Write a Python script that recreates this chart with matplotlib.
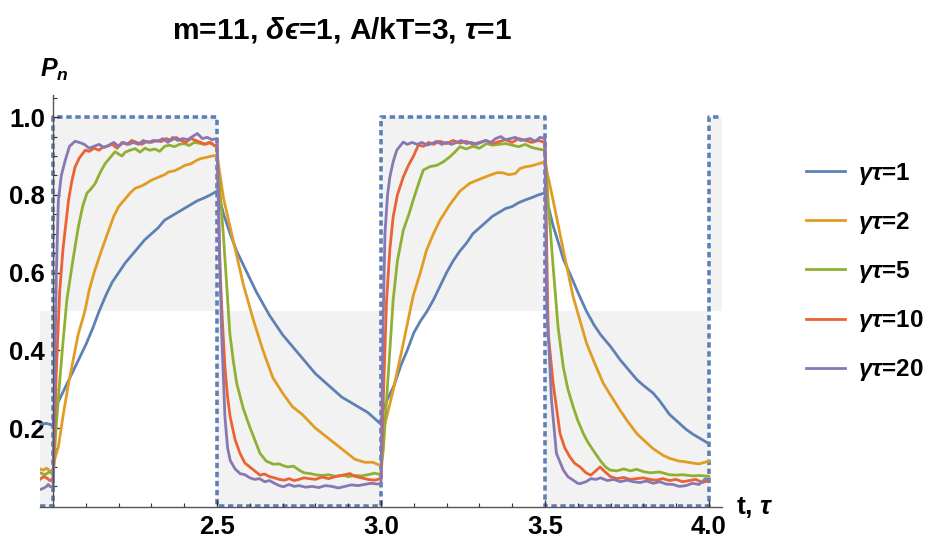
import matplotlib.pyplot as plt

plt.rcParams['font.family'] = ['Liberation Sans', 'DejaVu Sans']
plt.rcParams['mathtext.fontset'] = 'custom'
plt.rcParams['mathtext.rm'] = 'Liberation Sans:bold'
plt.rcParams['mathtext.it'] = 'Liberation Sans:bold:italic'
plt.rcParams['mathtext.bf'] = 'Liberation Sans:bold'

# square drive signal
switch_t = [1.96, 2.0, 2.5, 3.0, 3.5, 4.0, 4.04]
switch_level = [0.0, 1.0, 0.0, 1.0, 0.0, 1.0, 1.0]
fill_ref = 0.5

labels = ["$\\mathit{γτ}$=1", "$\\mathit{γτ}$=2", "$\\mathit{γτ}$=5",
          "$\\mathit{γτ}$=10", "$\\mathit{γτ}$=20"]
colors = ["#5E81B5", "#E19C24", "#8FB032", "#EB6235", "#8778B3"]

t_blue = [1.96, 1.98, 2.0, 2.005, 2.02, 2.04, 2.06, 2.08, 2.10, 2.12, 2.14, 2.16, 2.18, 2.20,
          2.22, 2.24, 2.26, 2.28, 2.30, 2.32, 2.34, 2.36, 2.38, 2.40, 2.42, 2.44, 2.46, 2.48, 2.50,
          2.505, 2.52, 2.54, 2.56, 2.58, 2.60, 2.62, 2.64, 2.66, 2.68, 2.70, 2.72, 2.74, 2.76,
          2.78, 2.80, 2.82, 2.84, 2.86, 2.88, 2.90, 2.92, 2.94, 2.96, 2.98, 3.0,
          3.005, 3.02, 3.04, 3.06, 3.08, 3.10, 3.12, 3.14, 3.16, 3.18, 3.20, 3.22, 3.24, 3.26,
          3.28, 3.30, 3.32, 3.34, 3.36, 3.38, 3.40, 3.42, 3.44, 3.46, 3.48, 3.50,
          3.505, 3.525, 3.54, 3.556, 3.58, 3.60, 3.627, 3.65, 3.67, 3.70, 3.73, 3.75, 3.78,
          3.80, 3.83, 3.85, 3.88, 3.90, 3.93, 3.95, 3.97, 4.0]
p_blue = [0.21, 0.212, 0.207, 0.25, 0.275, 0.31, 0.345, 0.38, 0.415, 0.455, 0.50, 0.54, 0.575, 0.60,
          0.625, 0.645, 0.665, 0.685, 0.70, 0.715, 0.735, 0.745, 0.755, 0.765, 0.775, 0.785, 0.792, 0.80, 0.81,
          0.80, 0.75, 0.70, 0.655, 0.62, 0.585, 0.55, 0.52, 0.49, 0.465, 0.44, 0.42, 0.40, 0.38,
          0.36, 0.34, 0.325, 0.31, 0.295, 0.28, 0.27, 0.26, 0.25, 0.24, 0.225, 0.21,
          0.245, 0.275, 0.31, 0.36, 0.40, 0.445, 0.475, 0.50, 0.53, 0.565, 0.60, 0.63, 0.655, 0.675,
          0.70, 0.715, 0.73, 0.745, 0.755, 0.765, 0.77, 0.78, 0.787, 0.793, 0.80, 0.805,
          0.79, 0.72, 0.68, 0.635, 0.59, 0.55, 0.50, 0.465, 0.44, 0.41, 0.375, 0.355, 0.325,
          0.31, 0.29, 0.27, 0.235, 0.22, 0.197, 0.185, 0.175, 0.16]

t_orange = [1.96, 1.97, 1.98, 1.99, 2.0, 2.005, 2.016, 2.03, 2.047, 2.06, 2.077, 2.09, 2.098, 2.11,
            2.125, 2.148, 2.17, 2.185, 2.20, 2.22, 2.235, 2.25, 2.27, 2.285, 2.30, 2.32, 2.34, 2.352,
            2.37, 2.39, 2.402, 2.42, 2.44, 2.453, 2.47, 2.485, 2.5,
            2.52, 2.55, 2.58, 2.61, 2.64, 2.67, 2.70, 2.73, 2.76, 2.80, 2.83, 2.86, 2.89, 2.92,
            2.95, 2.975, 3.0,
            3.007, 3.012, 3.037, 3.068, 3.098, 3.12, 3.139, 3.16, 3.18, 3.21, 3.241, 3.271, 3.30,
            3.33, 3.353, 3.37, 3.39, 3.41, 3.424, 3.44, 3.46, 3.48, 3.5,
            3.525, 3.556, 3.586, 3.627, 3.65, 3.678, 3.70, 3.729, 3.75, 3.78, 3.80, 3.83, 3.86,
            3.881, 3.91, 3.93, 3.95, 3.97, 4.0]
p_orange = [0.095, 0.092, 0.097, 0.09, 0.085, 0.12, 0.152, 0.23, 0.315, 0.37, 0.443, 0.48, 0.505, 0.555,
            0.60, 0.658, 0.71, 0.745, 0.77, 0.79, 0.805, 0.817, 0.823, 0.83, 0.838, 0.845, 0.852, 0.859,
            0.862, 0.87, 0.876, 0.88, 0.89, 0.894, 0.897, 0.90, 0.902,
            0.79, 0.68, 0.57, 0.48, 0.40, 0.33, 0.29, 0.255, 0.235, 0.20, 0.18, 0.16, 0.14, 0.12,
            0.112, 0.112, 0.103,
            0.143, 0.21, 0.297, 0.418, 0.54, 0.60, 0.658, 0.70, 0.735, 0.775, 0.81, 0.83, 0.84,
            0.85, 0.857, 0.857, 0.852, 0.855, 0.868, 0.872, 0.875, 0.88, 0.885,
            0.786, 0.658, 0.538, 0.418, 0.37, 0.315, 0.285, 0.246, 0.22, 0.186, 0.17, 0.147, 0.13,
            0.122, 0.115, 0.113, 0.11, 0.108, 0.115]

t_green = [1.96, 1.975, 1.99, 2.0, 2.01, 2.02, 2.03, 2.042, 2.06, 2.077, 2.09, 2.103, 2.115, 2.128,
           2.145, 2.159, 2.175, 2.189, 2.20, 2.21, 2.22, 2.235, 2.25, 2.265, 2.28, 2.295, 2.31,
           2.325, 2.34, 2.355, 2.37, 2.385, 2.40, 2.415, 2.43, 2.445, 2.46, 2.475, 2.49, 2.5,
           2.505, 2.519, 2.53, 2.539, 2.55, 2.56, 2.58, 2.601, 2.615, 2.631, 2.65, 2.672, 2.69,
           2.70, 2.715, 2.733, 2.75, 2.765, 2.784, 2.80, 2.82, 2.84, 2.86, 2.885, 2.90, 2.92,
           2.94, 2.96, 2.98, 3.0,
           3.017, 3.037, 3.05, 3.068, 3.085, 3.098, 3.115, 3.129, 3.15, 3.17, 3.19, 3.21, 3.225,
           3.241, 3.26, 3.28, 3.30, 3.322, 3.34, 3.36, 3.38, 3.40, 3.42, 3.44, 3.46, 3.48, 3.5,
           3.51, 3.525, 3.54, 3.556, 3.57, 3.586, 3.60, 3.617, 3.63, 3.647, 3.67, 3.685, 3.698,
           3.72, 3.74, 3.76, 3.78, 3.80, 3.82, 3.85, 3.88, 3.90, 3.92, 3.95, 3.97, 4.0]
p_green = [0.085, 0.08, 0.088, 0.08, 0.21, 0.32, 0.42, 0.53, 0.63, 0.718, 0.77, 0.804, 0.815, 0.829,
           0.86, 0.881, 0.897, 0.911, 0.905, 0.90, 0.91, 0.915, 0.919, 0.91, 0.92, 0.915, 0.918,
           0.912, 0.925, 0.928, 0.924, 0.93, 0.932, 0.927, 0.935, 0.933, 0.93, 0.935, 0.928, 0.925,
           0.85, 0.70, 0.56, 0.443, 0.37, 0.315, 0.25, 0.20, 0.17, 0.135, 0.115, 0.107, 0.108,
           0.104, 0.10, 0.102, 0.092, 0.085, 0.083, 0.08, 0.078, 0.08, 0.076, 0.079, 0.075, 0.078,
           0.077, 0.08, 0.084, 0.08,
           0.272, 0.529, 0.63, 0.709, 0.75, 0.786, 0.83, 0.864, 0.873, 0.876, 0.885, 0.898, 0.91,
           0.924, 0.918, 0.925, 0.92, 0.932, 0.928, 0.93, 0.932, 0.928, 0.924, 0.93, 0.922, 0.918, 0.915,
           0.78, 0.615, 0.46, 0.357, 0.30, 0.255, 0.22, 0.186, 0.165, 0.143, 0.115, 0.10, 0.092,
           0.09, 0.095, 0.09, 0.094, 0.088, 0.085, 0.087, 0.08, 0.079, 0.08, 0.077, 0.078, 0.076]

t_red = [1.96, 1.97, 1.98, 1.99, 2.0, 2.01, 2.02, 2.03, 2.047, 2.057, 2.067, 2.08, 2.098, 2.11,
         2.125, 2.14, 2.15, 2.165, 2.18, 2.195, 2.21, 2.225, 2.24, 2.255, 2.27, 2.285, 2.30,
         2.315, 2.33, 2.345, 2.36, 2.375, 2.39, 2.405, 2.42, 2.435, 2.45, 2.465, 2.48, 2.495, 2.5,
         2.509, 2.516, 2.524, 2.532, 2.54, 2.555, 2.57, 2.585, 2.60, 2.615, 2.631, 2.645, 2.66,
         2.675, 2.69, 2.705, 2.72, 2.735, 2.75, 2.765, 2.78, 2.80, 2.82, 2.84, 2.86, 2.88, 2.905,
         2.92, 2.94, 2.96, 2.98, 3.0,
         3.008, 3.017, 3.027, 3.037, 3.05, 3.068, 3.083, 3.098, 3.114, 3.13, 3.145, 3.16, 3.18,
         3.20, 3.22, 3.24, 3.26, 3.28, 3.30, 3.32, 3.34, 3.36, 3.38, 3.40, 3.42, 3.44, 3.46, 3.48, 3.5,
         3.51, 3.525, 3.546, 3.56, 3.576, 3.59, 3.607, 3.625, 3.64, 3.655, 3.668, 3.68, 3.70,
         3.72, 3.74, 3.76, 3.78, 3.80, 3.82, 3.84, 3.86, 3.88, 3.90, 3.92, 3.94, 3.96, 3.98, 4.0]
p_red = [0.068, 0.075, 0.072, 0.065, 0.07, 0.35, 0.55, 0.66, 0.786, 0.835, 0.872, 0.895, 0.915, 0.912,
         0.92, 0.915, 0.922, 0.925, 0.93, 0.92, 0.935, 0.93, 0.94, 0.935, 0.93, 0.937, 0.935,
         0.94, 0.937, 0.945, 0.94, 0.948, 0.94, 0.935, 0.945, 0.94, 0.935, 0.93, 0.935, 0.925, 0.93,
         0.615, 0.48, 0.357, 0.28, 0.229, 0.17, 0.135, 0.11, 0.10, 0.09, 0.079, 0.082, 0.075,
         0.072, 0.068, 0.066, 0.07, 0.065, 0.068, 0.072, 0.07, 0.068, 0.074, 0.07, 0.075, 0.078, 0.083,
         0.076, 0.072, 0.068, 0.066, 0.07,
         0.30, 0.529, 0.66, 0.743, 0.80, 0.846, 0.875, 0.898, 0.928, 0.925, 0.935, 0.93, 0.938,
         0.932, 0.94, 0.933, 0.938, 0.93, 0.935, 0.94, 0.932, 0.937, 0.942, 0.935, 0.945, 0.94, 0.935, 0.94, 0.935,
         0.443, 0.315, 0.186, 0.15, 0.126, 0.11, 0.10, 0.085, 0.079, 0.09, 0.10, 0.09, 0.075,
         0.07, 0.073, 0.068, 0.07, 0.072, 0.068, 0.066, 0.07, 0.065, 0.068, 0.062, 0.065, 0.068, 0.06, 0.065]

t_purple = [1.96, 1.97, 1.98, 1.985, 1.99, 2.0, 2.005, 2.01, 2.016, 2.025, 2.037, 2.05, 2.067, 2.08,
            2.095, 2.11, 2.125, 2.14, 2.155, 2.17, 2.185, 2.20, 2.215, 2.23, 2.245, 2.26, 2.275,
            2.29, 2.305, 2.32, 2.335, 2.35, 2.365, 2.38, 2.395, 2.41, 2.425, 2.44, 2.455, 2.47, 2.485, 2.5,
            2.506, 2.514, 2.524, 2.532, 2.54, 2.555, 2.57, 2.585, 2.60, 2.615, 2.63, 2.645, 2.66,
            2.675, 2.69, 2.702, 2.72, 2.735, 2.75, 2.77, 2.79, 2.81, 2.83, 2.85, 2.87, 2.89, 2.91,
            2.93, 2.95, 2.97, 2.99, 3.0,
            3.006, 3.012, 3.02, 3.027, 3.037, 3.048, 3.068, 3.08, 3.095, 3.11, 3.125, 3.14, 3.155,
            3.17, 3.185, 3.20, 3.215, 3.23, 3.245, 3.26, 3.275, 3.29, 3.305, 3.32, 3.335, 3.35,
            3.365, 3.38, 3.395, 3.41, 3.425, 3.44, 3.455, 3.47, 3.485, 3.5,
            3.505, 3.52, 3.535, 3.556, 3.57, 3.586, 3.60, 3.607, 3.625, 3.64, 3.655, 3.67, 3.69,
            3.71, 3.73, 3.75, 3.77, 3.79, 3.81, 3.83, 3.85, 3.87, 3.89, 3.91, 3.93, 3.95, 3.97, 3.99, 4.0]
p_purple = [0.042, 0.045, 0.05, 0.055, 0.05, 0.048, 0.35, 0.60, 0.786, 0.85, 0.889, 0.925, 0.938, 0.935,
            0.93, 0.92, 0.925, 0.93, 0.922, 0.928, 0.935, 0.925, 0.935, 0.93, 0.935, 0.93, 0.94,
            0.935, 0.94, 0.938, 0.945, 0.935, 0.948, 0.94, 0.945, 0.942, 0.95, 0.958, 0.945, 0.948, 0.942, 0.945,
            0.70, 0.443, 0.229, 0.15, 0.117, 0.095, 0.083, 0.08, 0.072, 0.068, 0.07, 0.062, 0.065,
            0.058, 0.052, 0.049, 0.055, 0.05, 0.052, 0.048, 0.05, 0.047, 0.052, 0.05, 0.046, 0.05, 0.054,
            0.052, 0.055, 0.058, 0.056, 0.057,
            0.45, 0.70, 0.80, 0.846, 0.885, 0.915, 0.936, 0.93, 0.935, 0.93, 0.935, 0.928, 0.932,
            0.938, 0.93, 0.935, 0.93, 0.935, 0.94, 0.932, 0.935, 0.93, 0.935, 0.94, 0.935, 0.945,
            0.95, 0.942, 0.945, 0.948, 0.94, 0.942, 0.945, 0.938, 0.948, 0.945,
            0.529, 0.272, 0.135, 0.092, 0.075, 0.066, 0.058, 0.057, 0.062, 0.07, 0.068, 0.072, 0.065,
            0.068, 0.062, 0.066, 0.062, 0.06, 0.064, 0.058, 0.062, 0.056, 0.055, 0.05, 0.052, 0.058, 0.055, 0.07, 0.065]

series_t = [t_blue, t_orange, t_green, t_red, t_purple]
series_p = [p_blue, p_orange, p_green, p_red, p_purple]

fig = plt.figure(figsize=(9.36, 5.41), dpi=100)
ax = fig.add_axes([40 / 936, 34 / 541, 682 / 936, 412 / 541])

ax.fill_between(switch_t, switch_level, fill_ref, step='post', color='#F2F2F2', lw=0, zorder=0)
ax.step(switch_t, switch_level, where='post', color='#5E81B5', lw=2.6,
        linestyle=(0, (1.5, 1.0)), zorder=1, clip_on=False)

for t, p, c, lab in zip(series_t, series_p, colors, labels):
    ax.plot(t, p, color=c, lw=2.0, label=lab, zorder=2)

ax.set_xlim(1.96, 4.04)
ax.set_ylim(-0.003, 1.057)

# Mathematica style axes crossing at (2, 0)
ax.spines['top'].set_visible(False)
ax.spines['right'].set_visible(False)
ax.spines['left'].set_position(('data', 2.0))
for s in ['left', 'bottom']:
    ax.spines[s].set_color('#555555')
    ax.spines[s].set_linewidth(1.0)

ax.set_xticks([2.5, 3.0, 3.5, 4.0])
ax.set_xticks([2.1, 2.2, 2.3, 2.4, 2.6, 2.7, 2.8, 2.9, 3.1, 3.2, 3.3, 3.4, 3.6, 3.7, 3.8, 3.9], minor=True)
ax.set_yticks([0.2, 0.4, 0.6, 0.8, 1.0])
ax.set_yticks([0.05, 0.1, 0.15, 0.25, 0.3, 0.35, 0.45, 0.5, 0.55, 0.65, 0.7, 0.75,
               0.85, 0.9, 0.95, 1.05], minor=True)
ax.tick_params(which='major', direction='in', length=5, width=1.0, color='#333333',
               labelsize=18.5, pad=6)
ax.tick_params(which='minor', direction='in', length=3, width=0.8, color='#333333')
for lbl in ax.get_xticklabels() + ax.get_yticklabels():
    lbl.set_fontweight('bold')

fig.text(342 / 936, 1 - 30 / 541, "m=11, $\\mathit{δϵ}$=1, A/kT=3, $\\mathit{τ}$=1",
         ha='center', va='center', fontsize=21.5, fontweight='bold')
fig.text(40 / 936, 1 - 70 / 541, "$\\mathit{P}_{\\mathit{n}}$", ha='left', va='center', fontsize=18)
fig.text(736 / 936, 1 - 508 / 541, "t, $\\mathit{τ}$", ha='left', va='center',
         fontsize=19, fontweight='bold')

leg = fig.legend(loc='center left', bbox_to_anchor=(806 / 936, 1 - 272 / 541), frameon=False,
                 fontsize=17.5, handlelength=1.6, handletextpad=0.55, labelspacing=0.95,
                 borderpad=0, borderaxespad=0)
for txt in leg.get_texts():
    txt.set_fontweight('bold')

fig.savefig('out.png', dpi=100)
